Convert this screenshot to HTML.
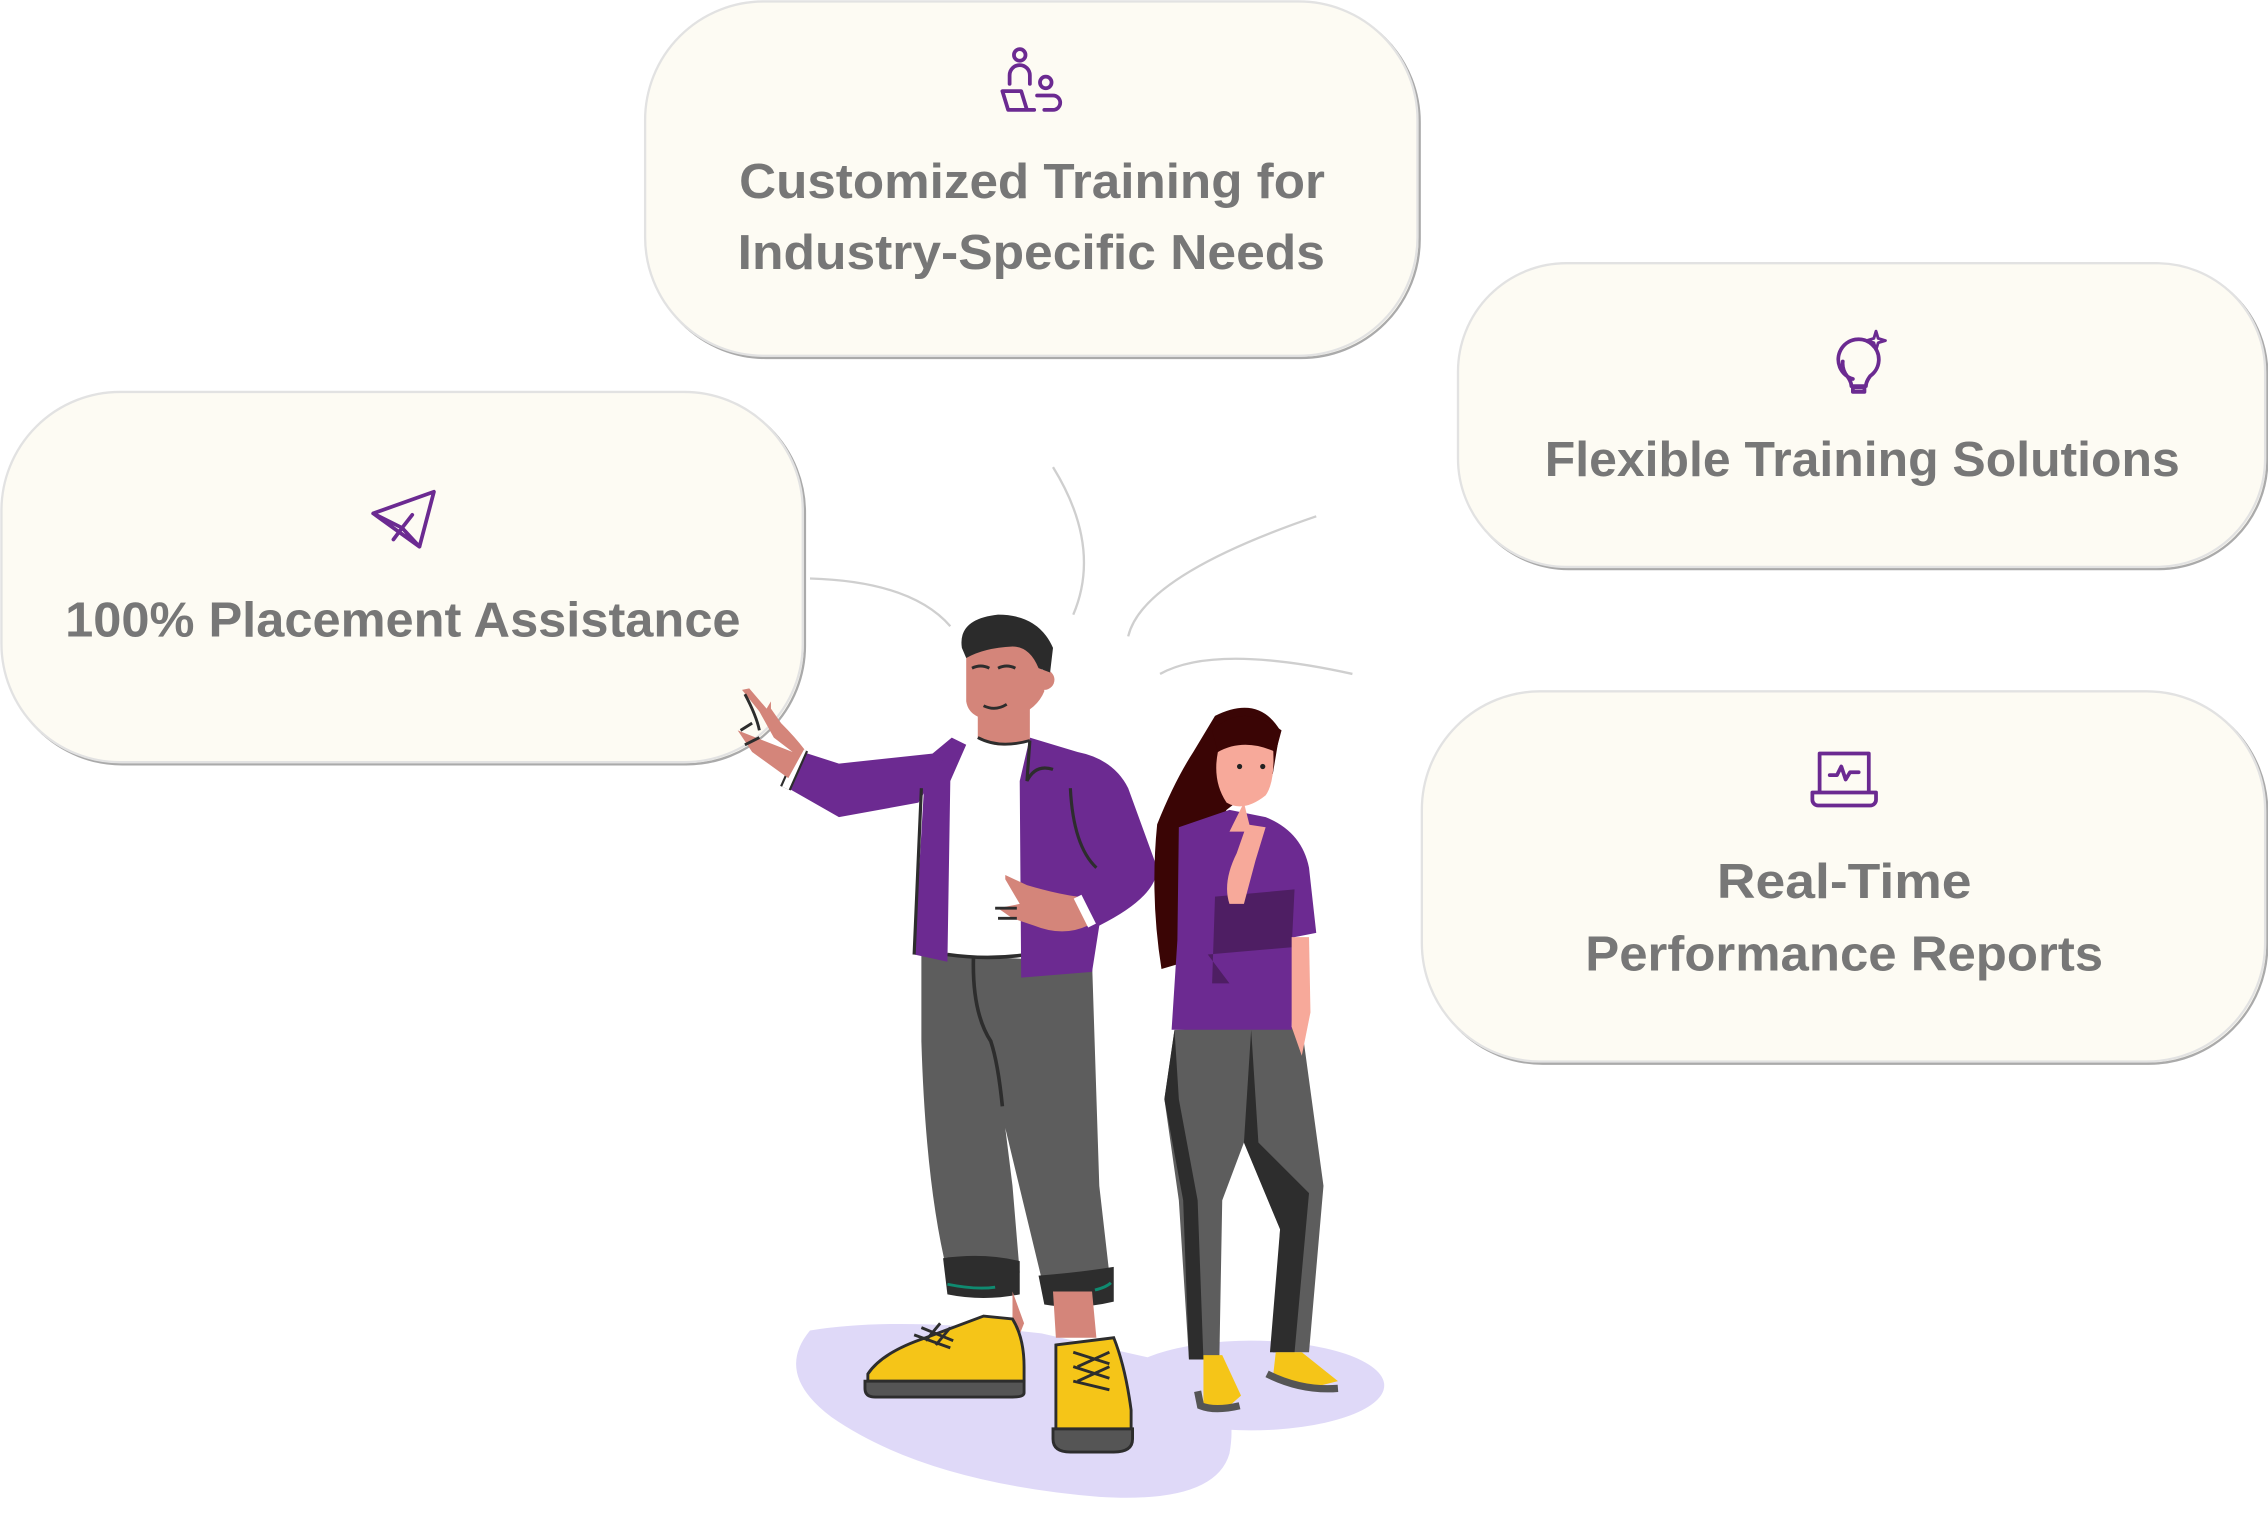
<!DOCTYPE html>
<html><head><meta charset="utf-8"><style>
html,body{margin:0;padding:0;background:#fff;}
svg{display:block;}
text{font-family:"Liberation Sans",sans-serif;font-weight:bold;fill:#777;font-size:34px;}
</style></head><body>
<svg width="2268" height="1533" viewBox="0 0 1568 1060" preserveAspectRatio="none" xmlns="http://www.w3.org/2000/svg">
<!-- connectors -->
<g fill="none" stroke="#cfcfcf" stroke-width="1.6">
<path d="M560 400 Q630 402 657 433"/>
<path d="M728 323 Q762 378 742 425"/>
<path d="M910 357 Q790 398 780 440"/>
<path d="M802 466 Q840 445 935 466"/>
</g>
<!-- boxes -->
<g fill="#fdfbf3">
<rect x="447.5" y="2.5" width="534" height="245" rx="82" stroke="#aaa" stroke-width="1.6"/>
<rect x="446" y="1" width="534" height="245" rx="82" stroke="#e2e2e2" stroke-width="1.6" fill="#fdfbf3"/>
<rect x="1009.5" y="183.5" width="558" height="210" rx="75" stroke="#aaa" stroke-width="1.6"/>
<rect x="1008" y="182" width="558" height="210" rx="75" stroke="#e2e2e2" stroke-width="1.6"/>
<rect x="2.5" y="272.5" width="554" height="256" rx="82" stroke="#aaa" stroke-width="1.6"/>
<rect x="1" y="271" width="554" height="256" rx="82" stroke="#e2e2e2" stroke-width="1.6"/>
<rect x="984.5" y="479.5" width="583" height="256" rx="82" stroke="#aaa" stroke-width="1.6"/>
<rect x="983" y="478" width="583" height="256" rx="82" stroke="#e2e2e2" stroke-width="1.6"/>
</g>
<!-- texts -->
<text x="511" y="137" textLength="405" lengthAdjust="spacingAndGlyphs">Customized Training for</text>
<text x="510" y="186" textLength="406" lengthAdjust="spacingAndGlyphs">Industry-Specific Needs</text>
<text x="45" y="440" textLength="467" lengthAdjust="spacingAndGlyphs">100% Placement Assistance</text>
<text x="1068" y="329" textLength="439" lengthAdjust="spacingAndGlyphs">Flexible Training Solutions</text>
<text x="1187" y="621" textLength="176" lengthAdjust="spacingAndGlyphs">Real-Time</text>
<text x="1096" y="671" textLength="358" lengthAdjust="spacingAndGlyphs">Performance Reports</text>
<!-- icons -->
<g fill="none" stroke="#6b2a91" stroke-width="2.6" stroke-linecap="round" stroke-linejoin="round">
<circle cx="705" cy="38" r="4"/>
<path d="M698 58 v-6 a7 7 0 0 1 14 0 v6"/>
<circle cx="723" cy="57" r="4"/>
<path d="M693 63 h13 l4 13 h-13 z M710 76 h5 M717 66 h11 a4 4 0 0 1 0 10 h-6"/>
<path d="M258 355 L300 340 L290 378 Z M258 355 L278 365 L290 378 M278 365 L272 373 M278 365 L285 356"/>
<path d="M1281 262 a14 14 0 1 1 12 -2 q-3 4 -3 7 h-10 q0 -3 -3 -7 a14 14 0 0 1 -3 -10 M1281 268 h8 v3 h-8z"/>
<path d="M1297 229 l1.5 5 l5 1.5 l-5 1.5 l-1.5 5 l-1.5 -5 l-5 -1.5 l5 -1.5z" stroke-width="2"/>
<path d="M1258 521 h34 v27 h-34 z M1253 548 h44 v5 a4 4 0 0 1 -4 4 h-36 a4 4 0 0 1 -4 -4 z M1265 536 h5 l3 -6 l3 9 l3 -5 h6"/>
</g>
<!-- shadows -->
<g fill="#dfd9f8">
<path d="M560 920 Q620 910 720 922 L800 940 Q860 950 850 1005 Q840 1040 760 1035 Q640 1025 575 980 Q535 950 560 920 Z"/>
<ellipse cx="865" cy="958" rx="92" ry="31"/>
</g>
<!-- MAN -->
<path d="M637 660 L755 665 L760 820 L768 890 L722 892 L695 780 L700 820 L705 880 L655 880 Q640 820 637 720 Z" fill="#5d5d5d"/>
<path d="M673 662 Q672 700 685 720 Q690 735 693 765" fill="none" stroke="#2d2d2d" stroke-width="2.5"/>
<path d="M652 870 Q680 866 705 872 L705 895 Q680 900 655 895 Z" fill="#2d2d2d"/>
<path d="M718 882 Q745 880 770 876 L770 900 Q745 906 722 902 Z" fill="#2d2d2d"/>
<path d="M655 888 Q675 892 688 890 M757 892 Q765 890 768 887" stroke="#0f8a70" stroke-width="2" fill="none"/>
<path d="M700 893 L708 915 L700 935" fill="#d4857a"/>
<path d="M728 893 L755 893 L758 925 L730 925 Z" fill="#d4857a"/>
<path d="M600 950 Q610 935 640 925 L680 910 L700 912 Q708 925 708 945 L708 955 L600 955 Z" fill="#f5c518" stroke="#2d2d2d" stroke-width="2"/>
<path d="M598 955 H708 V963 Q708 966 700 966 H605 Q598 966 598 960 Z" fill="#555" stroke="#2d2d2d" stroke-width="2"/>
<path d="M730 930 L770 925 Q778 945 782 975 L782 990 L730 990 Z" fill="#f5c518" stroke="#2d2d2d" stroke-width="2"/>
<path d="M728 988 H783 V995 Q783 1004 770 1004 H740 Q728 1004 728 995 Z" fill="#555" stroke="#2d2d2d" stroke-width="2"/>
<path d="M637 918 l22 9 M632 923 l25 9 M640 927 l10 -12 M647 930 l10 -12 M742 935 l25 8 M742 945 l25 8 M742 955 l25 6 M745 945 l22 -10 M745 955 l22 -10" stroke="#2d2d2d" stroke-width="2"/>
<path d="M655 512 L712 512 L710 660 L655 660 Z" fill="#fff"/>
<path d="M655 660 Q683 664 710 660" stroke="#2d2d2d" stroke-width="2.5" fill="none"/>
<path d="M658 510 L640 525 L632 660 L655 665 L657 540 L668 515 Z" fill="#6c2a91"/>
<path d="M712 510 L745 520 Q770 525 780 545 L800 600 Q800 620 760 640 L755 672 L706 676 L705 540 Z" fill="#6c2a91"/>
<path d="M655 520 L580 528 L555 520 L545 545 L580 565 L635 555 Z" fill="#6c2a91"/>
<path d="M555 518 L543 545" stroke="#2d2d2d" stroke-width="8"/>
<path d="M555 518 L543 545" stroke="#fff" stroke-width="5"/>
<path d="M637 545 L632 660 M740 545 Q742 585 758 600 M712 512 L710 540 Q716 528 728 532" stroke="#2d2d2d" stroke-width="2.2" fill="none"/>
<path d="M548 520 L535 510 L525 492 L513 477 L518 476 L530 490 L533 485 L533 490 L540 500 Q550 510 556 518 L545 538 L520 520 L510 505 Z" fill="#d4857a"/>
<path d="M515 480 Q523 495 525 505 M512 505 L520 500 M515 515 L525 510" stroke="#2d2d2d" stroke-width="2" fill="none"/>
<path d="M695 605 L710 612 Q730 618 745 620 L752 640 Q735 648 715 640 L700 635 L690 628 L705 625 L695 608 Z" fill="#d4857a"/>
<path d="M688 628 h15 M690 635 h13" stroke="#2d2d2d" stroke-width="2"/>
<path d="M745 620 L755 640" stroke="#fff" stroke-width="6"/>
<path d="M676 492 L676 510 Q690 520 712 512 L712 490 Z" fill="#d4857a"/>
<path d="M668 445 Q668 430 690 432 Q718 435 720 460 L722 478 Q715 495 690 498 Q670 498 668 485 Z" fill="#d4857a"/>
<circle cx="722" cy="470" r="7" fill="#d4857a"/>
<path d="M665 448 Q662 428 690 425 Q718 425 728 448 L726 465 L718 462 Q712 447 700 447 Q680 448 668 455 Z" fill="#2b2b2b"/>
<path d="M672 462 q6 -3 12 0 M690 462 q6 -3 12 0 M680 488 q8 4 16 -1 M676 510 q15 8 36 2" stroke="#2d2d2d" stroke-width="2" fill="none"/>
<!-- WOMAN -->
<path d="M812 712 L900 710 L915 820 L905 935 L880 935 L885 850 L860 790 L845 830 L843 940 L822 940 L815 830 L805 760 Z" fill="#5d5d5d"/>
<path d="M812 712 L805 760 L818 830 L822 940 L832 940 L828 830 L815 760 Z" fill="#2d2d2d"/>
<path d="M865 712 L870 790 L905 825 L895 935 L878 935 L885 850 L860 790 Z" fill="#2d2d2d"/>
<path d="M832 937 L845 937 L858 965 L850 972 L832 972 Z" fill="#f5c518"/>
<path d="M828 962 L830 972 Q840 976 857 972" stroke="#555" stroke-width="5" fill="none"/>
<path d="M882 935 L900 935 L925 955 L905 960 L880 953 Z" fill="#f5c518"/>
<path d="M876 950 Q900 962 925 960" stroke="#555" stroke-width="5" fill="none"/>
<path d="M840 495 Q870 480 885 505 L880 535 L848 560 L825 600 L820 665 L803 670 Q795 620 800 570 Q812 540 825 520 Z" fill="#3a0505"/>
<path d="M815 572 L850 560 L875 565 Q900 575 905 600 L910 645 L895 648 L893 712 L810 712 L814 650 Z" fill="#6c2a91"/>
<path d="M840 620 L895 615 L893 655 L835 660 L850 680 L838 680 Z" fill="#4e1e63"/>
<path d="M893 648 L905 648 L906 700 L900 730 L893 710 Z" fill="#f7a99a"/>
<path d="M850 625 Q845 610 855 590 L862 570 L875 572 L868 595 L860 625 Z" fill="#f7a99a"/>
<path d="M842 520 Q860 505 880 515 Q882 540 875 550 Q860 562 848 555 Q838 540 842 520 Z" fill="#f7a99a"/>
<path d="M860 555 L865 575 L850 575 Z" fill="#f7a99a"/>
<path d="M838 505 Q860 485 886 505 L882 520 Q860 510 842 520 Z" fill="#3a0505"/>
<circle cx="857" cy="530" r="1.8" fill="#222"/><circle cx="873" cy="530" r="1.8" fill="#222"/>
</svg>
</body></html>
